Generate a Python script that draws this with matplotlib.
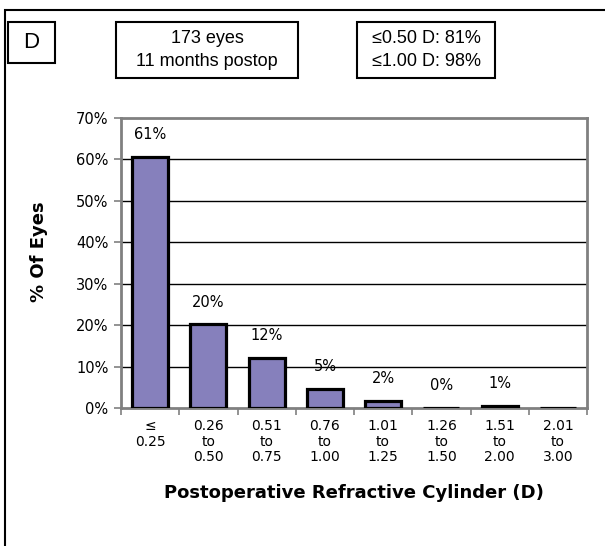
import matplotlib.pyplot as plt
from matplotlib.patches import Rectangle
import numpy as np

# Data
categories = ['≤\n0.25', '0.26\nto\n0.50', '0.51\nto\n0.75', '0.76\nto\n1.00',
              '1.01\nto\n1.25', '1.26\nto\n1.50', '1.51\nto\n2.00', '2.01\nto\n3.00']
percent_eyes = [60.7, 20.2, 12.1, 4.6, 1.7, 0.0, 0.6, 0.0]
bar_labels = ['61%', '20%', '12%', '5%', '2%', '0%', '1%', '']
y_ticks = [0, 10, 20, 30, 40, 50, 60, 70]

bar_color = '#8680BC'
frame_gray = '#808080'

fig = plt.figure(figsize=(6.05, 5.46), dpi=100)
ax = fig.add_axes([121 / 605, 1 - 408 / 546, 466 / 605, 290 / 546])

x = np.arange(len(categories))
ax.bar(x, percent_eyes, width=0.62, color=bar_color, edgecolor='black', linewidth=2.3, zorder=3)

for xi, v, lab in zip(x, percent_eyes, bar_labels):
    if lab:
        ax.annotate(lab, (xi, v), xytext=(0, 22), textcoords='offset pixels',
                    ha='center', va='center', fontsize=10.5)

ax.set_xlim(-0.5, len(categories) - 0.5)
ax.set_ylim(0, 70)
ax.set_yticks(y_ticks)
ax.set_yticklabels([f'{t}%' for t in y_ticks], fontsize=10.5)
for t in y_ticks[1:-1]:
    ax.axhline(t, color='black', linewidth=1, zorder=1)

# category labels centered, tick marks between categories
ax.set_xticks(x)
ax.set_xticklabels(categories, fontsize=10, linespacing=1.15, va='top')
ax.tick_params(axis='x', which='major', length=0, pad=8)
ax.set_xticks(np.arange(-0.5, len(categories), 1.0), minor=True)
ax.tick_params(axis='x', which='minor', length=5, direction='out', color=frame_gray, width=1.2)
ax.tick_params(axis='y', length=5, direction='out', color=frame_gray, width=1.2, pad=4)

for s in ax.spines.values():
    s.set_color(frame_gray)
    s.set_linewidth(2)

fig.text(39 / 605, 1 - 252 / 546, '% Of Eyes', rotation=90, ha='center', va='center',
         fontsize=13, fontweight='bold')
fig.text(354 / 605, 1 - 493 / 546, 'Postoperative Refractive Cylinder (D)',
         ha='center', va='center', fontsize=13, fontweight='bold')

# outer panel border (runs off right and bottom)
fig.patches.append(Rectangle((5 / 605, -0.1), 1.2, 1 - 10 / 546 + 0.1, transform=fig.transFigure,
                             fill=False, edgecolor='black', linewidth=1.5))

# boxes at top
def top_box(x0, y0, x1, y1, text, size):
    fig.patches.append(Rectangle((x0 / 605, 1 - y1 / 546), (x1 - x0) / 605, (y1 - y0) / 546,
                                 transform=fig.transFigure, fill=False,
                                 edgecolor='black', linewidth=1.5))
    fig.text((x0 + x1) / 2 / 605, 1 - (y0 + y1) / 2 / 546, text, ha='center', va='center',
             fontsize=size, family='Liberation Sans', linespacing=1.45)

top_box(8, 22, 55, 63, 'D', 16)
top_box(116, 22, 298, 78, '173 eyes\n11 months postop', 13)
top_box(357, 22, 495, 78, '≤0.50 D: 81%\n≤1.00 D: 98%', 13)

fig.savefig('out.png', dpi=100)
